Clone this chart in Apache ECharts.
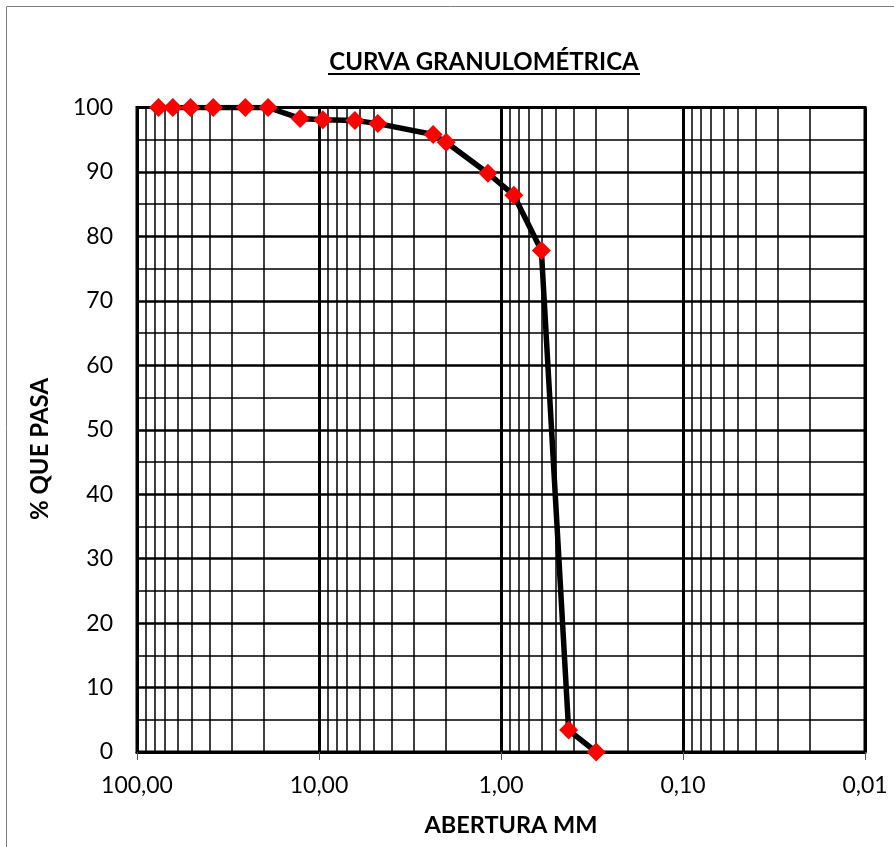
<!DOCTYPE html>
<html>
<head>
<meta charset="utf-8">
<script src="https://cdn.jsdelivr.net/npm/echarts@6/dist/echarts.min.js"></script>
<style>
html,body{margin:0;padding:0;background:#fff;}
#chart{width:894px;height:847px;}
</style>
</head>
<body>
<div id="chart"></div>
<script>
// Sieve openings (mm) and % passing
var aberturas = [76.2, 63.5, 50.8, 38.1, 25.4, 19.05, 12.7, 9.525, 6.35, 4.75, 2.36, 2.0, 1.18, 0.85, 0.6, 0.425, 0.3];
var pasa = [100, 100, 100, 100, 100, 100, 98.3, 98.1, 98.0, 97.5, 95.8, 94.6, 89.8, 86.4, 77.8, 3.4, 0];
var xDecades = [100, 10, 1, 0.1, 0.01];
var xMinorGrid = [];
[10, 1, 0.1, 0.01].forEach(function (d) {
  for (var k = 2; k <= 9; k++) xMinorGrid.push(+(d * k).toPrecision(6));
});
var yTicks = [0, 10, 20, 30, 40, 50, 60, 70, 80, 90, 100];

var FONT = 'Lato';
var chart = echarts.init(document.getElementById('chart'), null, {renderer: 'canvas'});
var points = aberturas.map(function (a, i) { return [a, pasa[i]]; });

var option = {
  animation: false,
  backgroundColor: '#fff',
  textStyle: {fontFamily: FONT},
  grid: {left: 137, right: 29, top: 107.5, bottom: 95, show: true, borderColor: '#000', borderWidth: 3, backgroundColor: 'transparent'},
  xAxis: {
    type: 'log', logBase: 10, min: 0.01, max: 100, inverse: true,
    axisLine: {show: true, lineStyle: {color: '#000', width: 3}},
    axisTick: {show: true, length: 8, lineStyle: {color: '#555', width: 1}},
    axisLabel: {color: '#000', fontSize: 23, fontFamily: FONT, margin: 22,
      formatter: function (v) { return Number(v).toFixed(2).replace('.', ','); }},
    splitLine: {show: true, lineStyle: {color: '#000', width: 3}},
    minorTick: {show: false}
  },
  yAxis: {
    type: 'value', min: 0, max: 100, interval: 10,
    axisLine: {show: true, lineStyle: {color: '#000', width: 3}},
    axisTick: {show: false},
    axisLabel: {color: '#000', fontSize: 23, fontFamily: FONT, margin: 24},
    splitLine: {show: true, lineStyle: {color: '#000', width: 2.5}},
    minorTick: {show: false, splitNumber: 2},
    minorSplitLine: {show: true, lineStyle: {color: '#000', width: 1.5}}
  },
  series: [
    {
      type: 'line', data: [], z: 1, silent: true,
      markLine: {
        silent: true, symbol: ['none', 'none'], label: {show: false},
        lineStyle: {color: '#000', width: 1.5, type: 'solid'},
        data: xMinorGrid.map(function (v) { return {xAxis: v}; })
      }
    },
    {
      type: 'line', data: points, z: 5,
      lineStyle: {color: '#000', width: 5.5},
      itemStyle: {color: '#ff0000'},
      symbol: 'diamond', symbolSize: 19, showSymbol: true
    }
  ],
  graphic: [
    {type: 'rect', shape: {x: 6.5, y: 6.5, width: 1000, height: 1000}, style: {fill: 'none', stroke: '#7f7f7f', lineWidth: 1}, z: 0, silent: true},
    {type: 'text', x: 484, y: 62, style: {text: 'CURVA GRANULOMÉTRICA', font: 'bold 24px Lato', fill: '#000', align: 'center', verticalAlign: 'middle'}},
    {type: 'line', shape: {x1: 328, y1: 74, x2: 640, y2: 74}, style: {stroke: '#000', lineWidth: 2}},
    {type: 'text', x: 511, y: 825, style: {text: 'ABERTURA MM', font: 'bold 23.5px Lato', fill: '#000', align: 'center', verticalAlign: 'middle'}},
    {type: 'text', x: 40, y: 449, rotation: Math.PI / 2, style: {text: '% QUE PASA', font: 'bold 24px Lato', fill: '#000', align: 'center', verticalAlign: 'middle'}}
  ]
};
chart.setOption(option);
</script>
</body>
</html>
